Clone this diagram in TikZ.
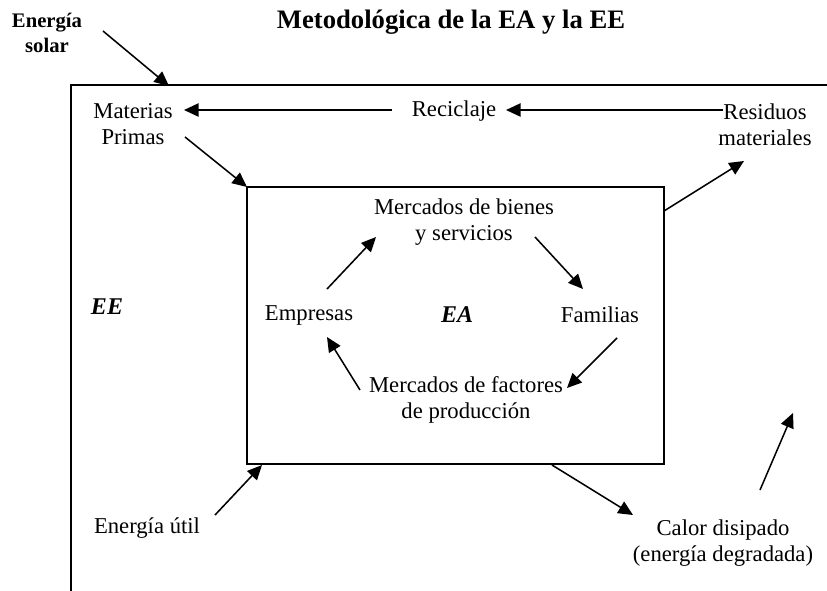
\documentclass[tikz,border=0pt]{standalone}
\usepackage{fontspec}
\setmainfont{Liberation Serif}
\usetikzlibrary{arrows.meta}
\tikzset{
  lbl/.style={inner sep=0pt, align=center, font=\fontsize{17}{19.5}\selectfont},
  boldlbl/.style={inner sep=0pt, align=center, font=\fontsize{15.5}{19}\selectfont\bfseries},
  flow/.style={line width=1.15pt, -{Triangle[length=11pt,width=10pt]}},
  frame/.style={line width=1.2pt},
}
\begin{document}
\begin{tikzpicture}[x=0.75pt,y=-0.75pt]
\useasboundingbox (0,0) rectangle (827,590);
% outer frame (only left and top edges visible)
\coordinate (obl) at (71,592);
\coordinate (otl) at (71,85);
\coordinate (otr) at (829,85);
\draw[frame] (obl) -- (otl) -- (otr);
% inner box
\node[frame, draw, minimum width=417*0.75pt, minimum height=277*0.75pt, inner sep=0pt] (ea) at (455.5,325.5) {};
% titles
\node[inner sep=0pt, font=\fontsize{20}{24}\selectfont\bfseries] (title) at (451,22) {Metodológica de la EA y la EE};
\node[boldlbl] (solar) at (47,33) {Energía\\solar};
% outer labels
\node[lbl] (mp) at (133,124) {Materias\\Primas};
\node[lbl] (rec) at (454,111) {Reciclaje};
\node[lbl] (res) at (765,125) {Residuos\\materiales};
\node[lbl, font=\fontsize{18}{20}\selectfont\bfseries\itshape] (ee) at (107,307) {EE};
\node[lbl] (eu) at (147,528) {Energía útil};
\node[lbl] (calor) at (723,543) {Calor disipado\\(energía degradada)};
% inner labels
\node[lbl] (mbs) at (464,222) {Mercados de bienes\\y servicios};
\node[lbl] (emp) at (309,315) {Empresas};
\node[lbl, font=\fontsize{18}{20}\selectfont\bfseries\itshape] (eatxt) at (457,315) {EA};
\node[lbl] (fam) at (600,315) {Familias};
\node[lbl] (mfp) at (466,400) {Mercados de factores\\de producción};
% arrow end points
\coordinate (a1s) at (103,31);  \coordinate (a1e) at (169,86);
\coordinate (a2s) at (392,110); \coordinate (a2e) at (184,110);
\coordinate (a3s) at (723,110); \coordinate (a3e) at (506,110);
\coordinate (a4s) at (185,137); \coordinate (a4e) at (247,187);
\coordinate (a5s) at (664,211); \coordinate (a5e) at (744,161);
\coordinate (a6s) at (327,289); \coordinate (a6e) at (376,237);
\coordinate (a7s) at (535,237); \coordinate (a7e) at (583,289);
\coordinate (a8s) at (617,338); \coordinate (a8e) at (567,388);
\coordinate (a9s) at (360,390); \coordinate (a9e) at (327,337);
\coordinate (a10s) at (215,515); \coordinate (a10e) at (262,465);
\coordinate (a11s) at (552,465); \coordinate (a11e) at (633,515);
\coordinate (a12s) at (760,490); \coordinate (a12e) at (793,413);
% arrows
\draw[flow] (a1s) -- (a1e);
\draw[flow] (a2s) -- (a2e);
\draw[flow] (a3s) -- (a3e);
\draw[flow] (a4s) -- (a4e);
\draw[flow] (a5s) -- (a5e);
\draw[flow] (a6s) -- (a6e);
\draw[flow] (a7s) -- (a7e);
\draw[flow] (a8s) -- (a8e);
\draw[flow] (a9s) -- (a9e);
\draw[flow] (a10s) -- (a10e);
\draw[flow] (a11s) -- (a11e);
\draw[flow] (a12s) -- (a12e);
\end{tikzpicture}
\end{document}
